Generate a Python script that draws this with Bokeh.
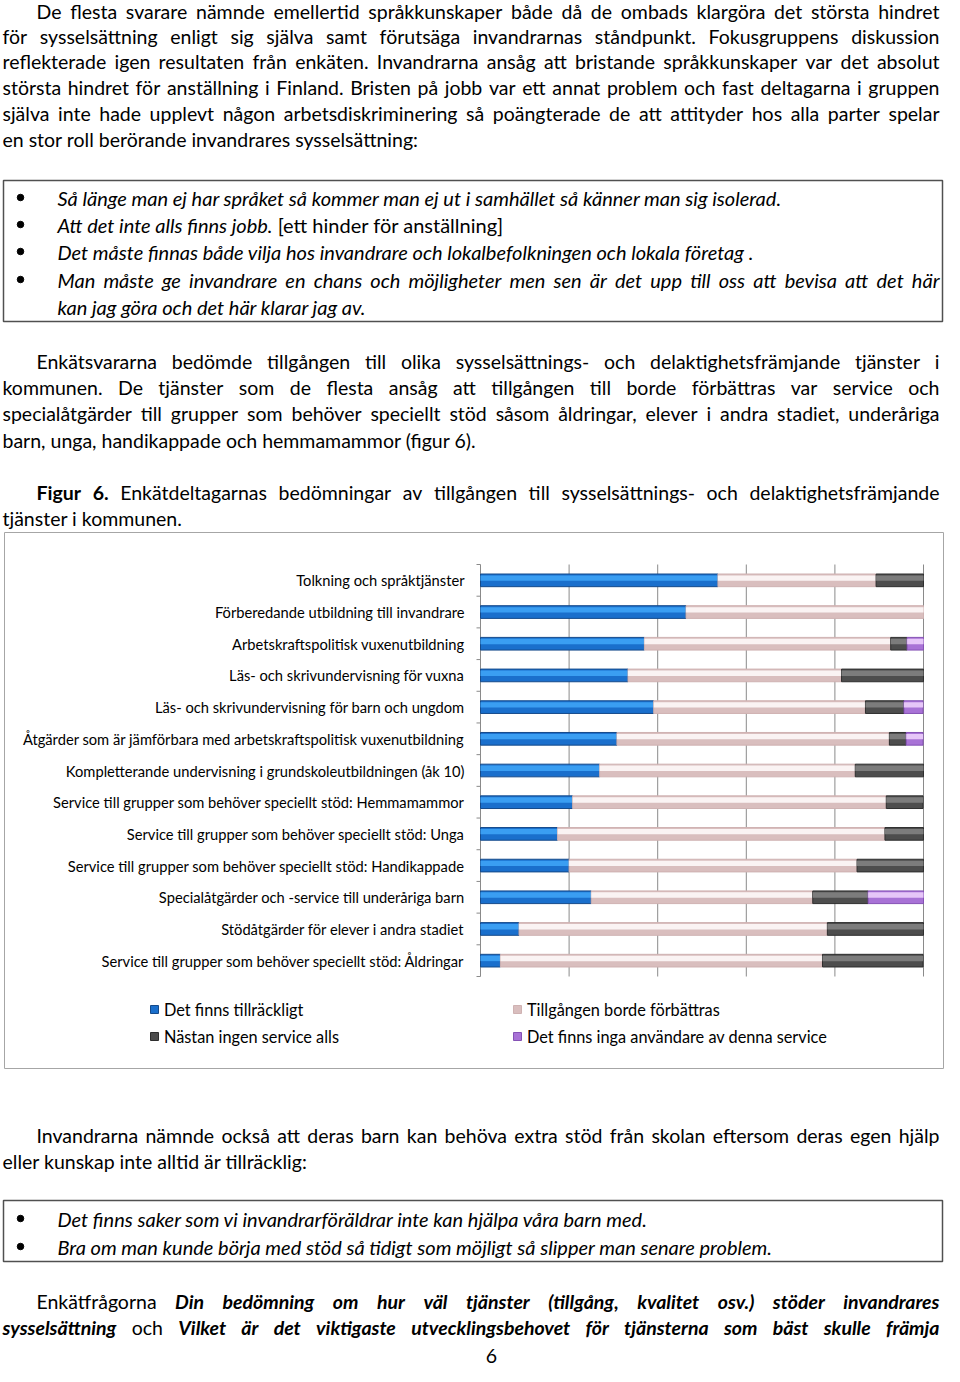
import os
import glob
import subprocess
import numpy as np
from bokeh.plotting import figure
from bokeh.models import Range1d, Legend, LegendItem, ColumnDataSource
from bokeh.core.properties import value
from bokeh.embed import file_html
from bokeh.resources import INLINE

# ---------------- chart data (percent of respondents) ----------------
categories = [
    "Tolkning och språktjänster",
    "Förberedande utbildning till invandrare",
    "Arbetskraftspolitisk vuxenutbildning",
    "Läs- och skrivundervisning för vuxna",
    "Läs- och skrivundervisning för barn och ungdom",
    "Åtgärder som är jämförbara med arbetskraftspolitisk vuxenutbildning",
    "Kompletterande undervisning i grundskoleutbildningen (åk 10)",
    "Service till grupper som behöver speciellt stöd: Hemmamammor",
    "Service till grupper som behöver speciellt stöd: Unga",
    "Service till grupper som behöver speciellt stöd: Handikappade",
    "Specialåtgärder och -service till underåriga barn",
    "Stödåtgärder för elever i andra stadiet",
    "Service till grupper som behöver speciellt stöd: Åldringar",
]
det_finns_tillrackligt = [53.6, 46.4, 37.0, 33.3, 39.1, 30.8, 26.9, 20.8, 17.4, 20.0, 25.0, 8.7, 4.5]
tillgangen_borde_forbattras = [35.7, 53.6, 55.6, 48.2, 47.8, 61.5, 57.7, 70.8, 73.9, 65.0, 50.0, 69.6, 72.7]
nastan_ingen_service = [10.7, 0.0, 3.7, 18.5, 8.7, 3.8, 15.4, 8.3, 8.7, 15.0, 12.5, 21.7, 22.7]
inga_anvandare = [0.0, 0.0, 3.7, 0.0, 4.3, 3.8, 0.0, 0.0, 0.0, 0.0, 12.5, 0.0, 0.0]
series_labels = ["Det finns tillräckligt", "Tillgången borde förbättras",
                 "Nästan ingen service alls", "Det finns inga användare av denna service"]
grid_ticks = [20, 40, 60, 80, 100]

# ---------------- page text ----------------
top_lines = [
    (12, 37, True, [("De flesta svarare nämnde emellertid språkkunskaper både då de ombads klargöra det största hindret", "normal")]),
    (37, 2, True, [("för sysselsättning enligt sig själva samt förutsäga invandrarnas ståndpunkt. Fokusgruppens diskussion", "normal")]),
    (62, 2, True, [("reflekterade igen resultaten från enkäten. Invandrarna ansåg att bristande språkkunskaper var det absolut", "normal")]),
    (88, 2, True, [("största hindret för anställning i Finland. Bristen på jobb var ett annat problem och fast deltagarna i gruppen", "normal")]),
    (114, 2, True, [("själva inte hade upplevt någon arbetsdiskriminering så poängterade de att attityder hos alla parter spelar", "normal")]),
    (140, 2, False, [("en stor roll berörande invandrares sysselsättning:", "normal")]),
    (362, 37, True, [("Enkätsvararna bedömde tillgången till olika sysselsättnings- och delaktighetsfrämjande tjänster i", "normal")]),
    (388, 2, True, [("kommunen. De tjänster som de flesta ansåg att tillgången till borde förbättras var service och", "normal")]),
    (414, 2, True, [("specialåtgärder till grupper som behöver speciellt stöd såsom åldringar, elever i andra stadiet, underåriga", "normal")]),
    (441, 2, False, [("barn, unga, handikappade och hemmamammor (figur 6).", "normal")]),
    (493, 37, True, [("Figur 6.", "bold"), ("Enkätdeltagarnas bedömningar av tillgången till sysselsättnings- och delaktighetsfrämjande", "normal")]),
    (519, 2, False, [("tjänster i kommunen.", "normal")]),
]
top_quotes = [
    (198, 58, False, [("Så länge man ej har språket så kommer man ej ut i samhället så känner man sig isolerad.", "italic")]),
    (225, 58, False, [("Att det inte alls finns jobb.", "italic"), ("[ett hinder för anställning]", "normal")]),
    (252, 58, False, [("Det måste finnas både vilja hos invandrare och lokalbefolkningen och lokala företag .", "italic")]),
    (280, 58, True, [("Man måste ge invandrare en chans och möjligheter men sen är det upp till oss att bevisa att det här", "italic")]),
    (307, 58, False, [("kan jag göra och det här klarar jag av.", "italic")]),
]
top_bullets_y = [198, 225, 252, 280]
bottom_lines = [
    (1136, 37, True, [("Invandrarna nämnde också att deras barn kan behöva extra stöd från skolan eftersom deras egen hjälp", "normal")]),
    (1162, 2, False, [("eller kunskap inte alltid är tillräcklig:", "normal")]),
    (1302, 37, True, [("Enkätfrågorna", "normal"), ("Din bedömning om hur väl tjänster (tillgång, kvalitet osv.) stöder invandrares", "bold italic")]),
    (1328, 2, True, [("sysselsättning", "bold italic"), ("och", "normal"), ("Vilket är det viktigaste utvecklingsbehovet för tjänsterna som bäst skulle främja", "bold italic")]),
]
bottom_quotes = [
    (1219, 58, False, [("Det finns saker som vi invandrarföräldrar inte kan hjälpa våra barn med.", "italic")]),
    (1247, 58, False, [("Bra om man kunde börja med stöd så tidigt som möjligt så slipper man senare problem.", "italic")]),
]
bottom_bullets_y = [1219, 1247]
page_number = "6"

FONT = "Lato"
X0, X1 = 1, 945          # picture columns covered by the figures
RIGHT = 940
LEFT_MIN = 3

# ---------------- text measuring (Pillow ships with Bokeh) ----------------
try:
    from PIL import ImageFont
except Exception:
    ImageFont = None

_files = {"normal": ["Lato-Regular.ttf"], "italic": ["Lato-Italic.ttf"],
          "bold": ["Lato-Bold.ttf"], "bold italic": ["Lato-BoldItalic.ttf"]}
_fc = {"normal": "Lato:style=Regular", "italic": "Lato:style=Italic",
       "bold": "Lato:style=Bold", "bold italic": "Lato:style=Bold Italic"}


def _find(style):
    roots = ["/usr/share/fonts", "/usr/local/share/fonts",
             os.path.expanduser("~/.fonts"), os.path.expanduser("~/.local/share/fonts")]
    for root in roots:
        for name in _files[style]:
            hits = glob.glob(os.path.join(root, "**", name), recursive=True)
            if hits:
                return hits[0]
    try:
        out = subprocess.run(["fc-match", "-f", "%{file}", _fc[style]],
                             capture_output=True, text=True, timeout=10).stdout.strip()
        if "lato" in out.lower():
            return out
    except Exception:
        pass
    return None


_fonts = {}


def _font(style):
    if style not in _fonts:
        f = None
        path = _find(style)
        if ImageFont is not None and path:
            try:
                f = ImageFont.truetype(path, 100)
            except Exception:
                f = None
        _fonts[style] = f
    return _fonts[style]


def tw(s, style, size):
    f = _font(style)
    if f is None:
        return 0.5 * size * len(s)
    return f.getlength(s) * size / 100.0


def tokens(segs, justify):
    if justify:
        return [(w, st) for txt, st in segs for w in txt.split()]
    return list(segs)


def fit_size(lines, cap, min_gap=0.75):
    best = cap
    for y, x0, just, segs in lines:
        if not just:
            continue
        toks = tokens(segs, True)
        nat = sum(tw(t, st, 1.0) for t, st in toks) + (len(toks) - 1) * min_gap * tw(" ", "normal", 1.0)
        best = min(best, (RIGHT - max(x0, LEFT_MIN)) / nat)
    return round(best, 2)


def layout(x0, justify, segs, size):
    x0 = max(x0, LEFT_MIN)
    toks = tokens(segs, justify)
    widths = [tw(t, st, size) for t, st in toks]
    if justify and len(toks) > 1:
        gap = (RIGHT - x0 - sum(widths)) / (len(toks) - 1)
    else:
        gap = tw(" ", "normal", size)
    out, x = [], x0
    for (t, st), w in zip(toks, widths):
        out.append((x, t, st))
        x += w + gap
    return out


def draw_lines(p, lines, size):
    groups = {}
    for y, x0, just, segs in lines:
        for x, t, st in layout(x0, just, segs, size):
            g = groups.setdefault(st, {"x": [], "y": [], "text": []})
            g["x"].append(x)
            g["y"].append(y)
            g["text"].append(t)
    for st, g in groups.items():
        p.text(x="x", y="y", text="text", source=ColumnDataSource(g),
               text_font=value(FONT), text_font_size=value(f"{size}px"),
               text_font_style=st, text_baseline="middle", text_align="left",
               text_color="#000000")


def text_fig(top, bottom):
    # data coordinates are the reference page's pixel coordinates
    p = figure(width=X1 - X0, height=bottom - top, x_range=Range1d(X0, X1),
               y_range=Range1d(bottom, top),
               output_backend="svg", toolbar_location=None, min_border=0,
               x_axis_location=None, y_axis_location=None)
    p.grid.visible = False
    p.outline_line_color = None
    p.background_fill_color = "white"
    p.border_fill_color = "white"
    return p


body_size = fit_size(top_lines + bottom_lines, 19.5)
quote_size = min(fit_size(top_quotes, 20.0, 0.9),
                 round((833 - 58) / tw(top_quotes[0][3][0][0], "italic", 1.0), 2))

# page bands (picture pixel rows)
TOP0, CH0, CH1, BOT1 = 1, 531, 1071, 1367

# ---------------- top text ----------------
pt = text_fig(TOP0, CH0)
pt.quad(left=4, right=943, top=181, bottom=322, fill_color=None,
        line_color="#505050", line_width=1.5)
draw_lines(pt, top_lines, body_size)
draw_lines(pt, top_quotes, quote_size)
pt.scatter(x=[21] * len(top_bullets_y), y=top_bullets_y, size=6.5, color="#000000")

# ---------------- chart ----------------
n = len(categories)
ypos = np.arange(1, n + 1)
edges = np.arange(n + 1) + 0.5
vals = np.array([det_finns_tillrackligt, tillgangen_borde_forbattras,
                 nastan_ingen_service, inga_anvandare], dtype=float)
cum = np.cumsum(vals, axis=0)
lefts = cum - vals

# layout of the chart box on the page (pixels)
FL, FR, FT, FB = 5, 944, 533, 1069      # outer chart box
AX0, AX100 = 481, 924                   # value 0 % and 100 %
ROW_TOP, ROW_BOT = 565, 977             # top / bottom of category band
kx = (AX100 - AX0) / 100.0
ky = (ROW_BOT - ROW_TOP) / n

pc = figure(width=X1 - X0, height=CH1 - CH0,
            x_range=Range1d(-(AX0 - FL) / kx, 100 + (FR - AX100) / kx),
            y_range=Range1d(edges[-1] + (FB - ROW_BOT) / ky, edges[0] - (ROW_TOP - FT) / ky),
            output_backend="svg", toolbar_location=None,
            x_axis_location=None, y_axis_location=None,
            min_border_left=FL - X0, min_border_right=X1 - FR,
            min_border_top=FT - CH0, min_border_bottom=CH1 - FB)
pc.grid.visible = False
pc.outline_line_color = "#a6a6a6"
pc.outline_line_width = 1
pc.background_fill_color = "white"
pc.border_fill_color = "white"

label_size = round(min(15.0, 441 / tw(max(categories, key=lambda s: tw(s, "normal", 1)), "normal", 1)), 2)
legend_size = round(300 / tw(series_labels[3], "normal", 1), 2)

axis_color = "#8a8a8a"
# vertical value grid lines
pc.segment(x0=grid_ticks, x1=grid_ticks, y0=[edges[0]] * len(grid_ticks),
           y1=[edges[-1]] * len(grid_ticks), line_color=axis_color, line_width=1)
# category axis: line, ticks between categories and labels
pc.segment(x0=[0], x1=[0], y0=[edges[0]], y1=[edges[-1]], line_color=axis_color, line_width=1)
pc.ray(x=np.zeros(n + 1), y=edges, length=4, length_units="screen", angle=np.pi,
       line_color=axis_color, line_width=1)
pc.text(x=np.zeros(n), y=ypos, text=categories, x_offset=-16,
        text_font=value(FONT), text_font_size=value(f"{label_size}px"),
        text_align="right", text_baseline="middle", text_color="#000000")

base_colors = ["#1a6fcc", "#d9bebe", "#4d4d4d", "#a872d6"]
hi_colors = ["#3a9ef2", "#faf3f3", "#7c7c7c", "#e6c6f8"]
edge_colors = ["#154a8a", "#cfb2b2", "#2e2e2e", "#8552b5"]

renderers = []
for k in range(4):
    m = vals[k] > 0
    src = ColumnDataSource(dict(y=ypos[m], yh=ypos[m] - 0.07,
                                left=lefts[k][m], right=cum[k][m]))
    r = pc.hbar(y="y", left="left", right="right", height=0.4, source=src,
                fill_color=base_colors[k], line_color=edge_colors[k], line_width=1)
    pc.hbar(y="yh", left="left", right="right", height=0.17, source=src,
            fill_color=hi_colors[k], line_color=None)
    renderers.append(r)

for items, icon_x in (([0, 2], 150), ([1, 3], 513)):
    lg = Legend(items=[LegendItem(label=series_labels[i], renderers=[renderers[i]]) for i in items],
                location=(icon_x - FL, FB - 1047), orientation="vertical",
                padding=0, margin=0, border_line_color=None, background_fill_alpha=0,
                glyph_width=10, glyph_height=10, label_standoff=5,
                label_height=20, spacing=7,
                label_text_font=FONT, label_text_font_size=f"{legend_size}px",
                label_text_color="#000000")
    pc.add_layout(lg, "center")

# ---------------- bottom text ----------------
pb = text_fig(CH1, BOT1)
pb.quad(left=4, right=943, top=1201, bottom=1262, fill_color=None,
        line_color="#505050", line_width=1.5)
draw_lines(pb, bottom_lines, body_size)
draw_lines(pb, bottom_quotes, quote_size)
pb.scatter(x=[21] * len(bottom_bullets_y), y=bottom_bullets_y, size=6.5, color="#000000")
pb.text(x=[492], y=[1356], text=[page_number], text_font=value(FONT),
        text_font_size=value(f"{body_size}px"), text_baseline="middle",
        text_align="center", text_color="#000000")

open("out.html", "w").write(file_html([pt, pc, pb], INLINE))
